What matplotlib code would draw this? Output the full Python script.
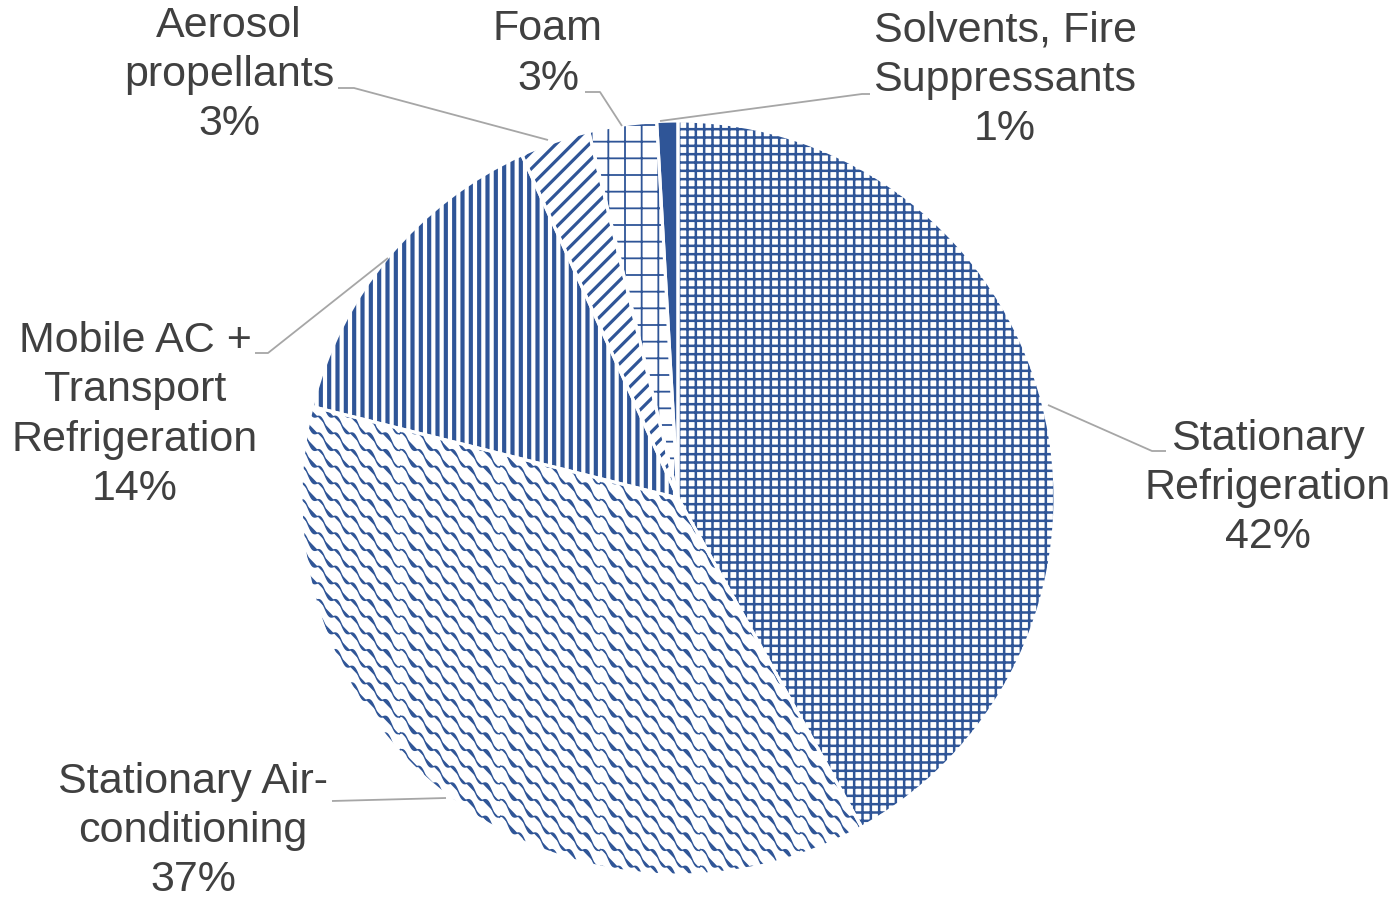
import warnings
import numpy as np
import matplotlib
matplotlib.use("Agg")
import matplotlib.pyplot as plt
import matplotlib.hatch as mhatch
from matplotlib.path import Path

warnings.filterwarnings("ignore")

# ---------------- data ----------------
categories = ["Stationary\nRefrigeration", "Stationary Air-\nconditioning",
              "Mobile AC +\nTransport\nRefrigeration", "Aerosol\npropellants",
              "Foam", "Solvents, Fire\nSuppressants"]
values = [41.9, 37.0, 14.3, 3.0, 2.9, 0.9]
pct_labels = ["42%", "37%", "14%", "3%", "3%", "1%"]

BLUE = "#2F5597"
TEXT = "#404040"
LEADER = "#A6A6A6"


# ---------------- custom wavy hatch ('w') ----------------
class WaveHatch(mhatch.HatchPatternBase):
    def __init__(self, hatch, density):
        self.n = hatch.count('w') * density
        self.pts = 121
        if self.n:
            self.cs = np.arange(-2, 2 * self.n + 3) / self.n
            self.num_vertices = len(self.cs) * self.pts
        else:
            self.num_vertices = 0

    def set_vertices_and_codes(self, vertices, codes):
        x = np.linspace(-0.1, 1.1, self.pts)
        amp = 0.035
        m = self.n
        k = 0
        for c in self.cs:
            y = c - x + amp * np.sin(2 * np.pi * m * x)
            vertices[k:k + self.pts, 0] = x
            vertices[k:k + self.pts, 1] = y
            codes[k] = Path.MOVETO
            codes[k + 1:k + self.pts] = Path.LINETO
            k += self.pts


if WaveHatch not in mhatch._hatch_types:
    mhatch._hatch_types.append(WaveHatch)

hatches = ["++", "w", "||", "//", "+", None]
hatch_lws = [1.8, 1.0, 3.0, 2.3, 1.3, 1.0]
facecolors = ["white", "white", "white", "white", "white", BLUE]

W, H = 1399, 901
fig = plt.figure(figsize=(W / 100, H / 100), dpi=100)
ax = fig.add_axes([0, 0, 1, 1])
ax.set_xlim(0, W)
ax.set_ylim(0, H)
ax.set_aspect("equal")
ax.axis("off")


def P(x, y):
    """convert pixel (top-left origin) to data coords"""
    return x, H - y


cx, cy = P(678, 498)
R = 377

wedges, _ = ax.pie(values, startangle=90, counterclock=False,
                   center=(cx, cy), radius=R, frame=True,
                   wedgeprops=dict(linewidth=0, edgecolor=BLUE))
for w, h, lw, fc in zip(wedges, hatches, hatch_lws, facecolors):
    w.set_facecolor(fc)
    w.set_edgecolor(BLUE)
    w.set_linewidth(0)
    if h:
        w.set_hatch(h)
        try:
            w.set_hatch_linewidth(lw)
        except AttributeError:
            pass

# white separators
wedges2, _ = ax.pie(values, startangle=90, counterclock=False,
                    center=(cx, cy), radius=R, frame=True,
                    wedgeprops=dict(linewidth=2.2, edgecolor="white", fill=False))
ax.set_xlim(0, W)
ax.set_ylim(0, H)
ax.axis("off")

# ---------------- labels ----------------
label_pos = [(1268, 488), (193, 831), (135, 415), (229, 75), (548, 54), (1005, 80)]
leaders = [
    [(1048, 405), (1152, 451), (1166, 451)],
    [(446, 798), (332, 801)],
    [(388, 258), (268, 353), (255, 353)],
    [(548, 140), (354, 88), (338, 88)],
    [(622, 126), (600, 92), (585, 92)],
    [(660, 121), (862, 94), (870, 94)],
]

for cat, pct, (lx, ly) in zip(categories, pct_labels, label_pos):
    X, Y = P(lx, ly)
    ax.text(X, Y, cat + "\n" + pct, ha="center", va="center",
            fontsize=31, color=TEXT, family=["Liberation Sans", "DejaVu Sans"],
            linespacing=1.3)

for pts in leaders:
    xs = [p[0] for p in pts]
    ys = [H - p[1] for p in pts]
    ax.plot(xs, ys, color=LEADER, lw=1.3, solid_capstyle="butt")

fig.savefig("out.png", dpi=100, facecolor="white")
